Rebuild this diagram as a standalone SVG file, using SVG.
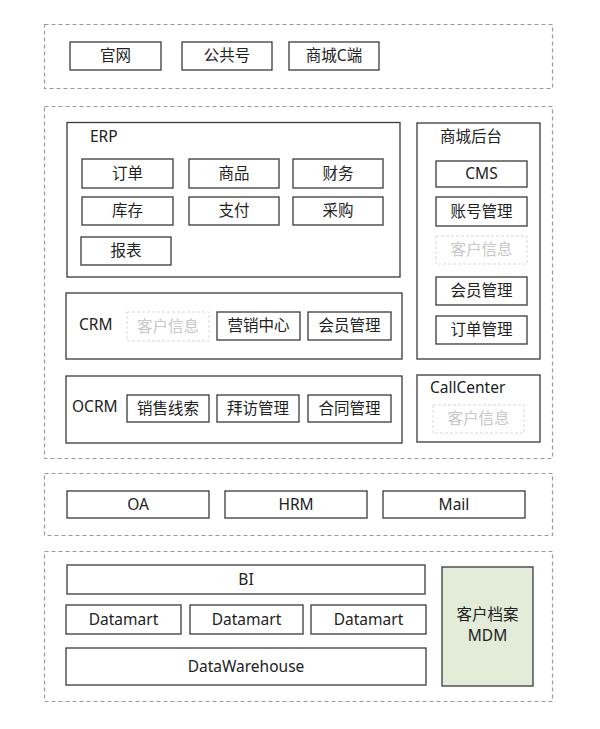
<svg xmlns="http://www.w3.org/2000/svg" width="600" height="729" viewBox="0 0 600 729">
<style>
.zone{fill:none;stroke:#9a9a9a;stroke-width:1.2;stroke-dasharray:4 3}
.box{fill:#fff;stroke:#3a3a3a;stroke-width:1.3}
.grp{fill:#fff;stroke:#3a3a3a;stroke-width:1.3}
.faint{fill:#fff;stroke:#d8d8d8;stroke-width:1;stroke-dasharray:3 2}
.mdm{fill:#e3ebd9;stroke:#3a3a3a;stroke-width:1.3}
text{font-family:"Noto Sans","Noto Sans CJK SC",sans-serif;font-size:15.5px;fill:#222;dominant-baseline:central}
.c{text-anchor:middle}
.ft{fill:#c8c8c8}
</style>
<rect width="600" height="729" fill="#fff"/>
<g id="zones">
<rect class="zone" x="44.5" y="24.5" width="508" height="64"/>
<rect class="zone" x="44.5" y="106.5" width="508" height="352"/>
<rect class="zone" x="44.5" y="473.5" width="508" height="62"/>
<rect class="zone" x="44.5" y="551.5" width="508" height="150"/>
</g>
<g id="n-guanwang"><rect class="box" x="70" y="42" width="91" height="28"/><text class="c" x="115.5" y="55">官网</text></g>
<g id="n-gongzhonghao"><rect class="box" x="182" y="42" width="90" height="28"/><text class="c" x="227" y="55">公共号</text></g>
<g id="n-shangcheng-c"><rect class="box" x="289" y="42" width="90" height="28"/><text class="c" x="334" y="55">商城C端</text></g>

<g id="g-erp"><rect class="grp" x="67" y="122.5" width="333" height="154.5"/><text x="90" y="136">ERP</text></g>
<g id="n-dingdan"><rect class="box" x="82" y="159" width="91" height="29"/><text class="c" x="127.5" y="172.5">订单</text></g>
<g id="n-shangpin"><rect class="box" x="189" y="159" width="90" height="29"/><text class="c" x="234" y="172.5">商品</text></g>
<g id="n-caiwu"><rect class="box" x="293" y="159" width="90" height="29"/><text class="c" x="338" y="172.5">财务</text></g>
<g id="n-kucun"><rect class="box" x="82" y="197" width="91" height="28"/><text class="c" x="127.5" y="210">库存</text></g>
<g id="n-zhifu"><rect class="box" x="189" y="197" width="90" height="28"/><text class="c" x="234" y="210">支付</text></g>
<g id="n-caigou"><rect class="box" x="293" y="197" width="90" height="28"/><text class="c" x="338" y="210">采购</text></g>
<g id="n-baobiao"><rect class="box" x="81" y="237" width="90" height="28"/><text class="c" x="126" y="250">报表</text></g>

<g id="g-houtai"><rect class="grp" x="417" y="123" width="123" height="236"/><text x="440" y="136">商城后台</text></g>
<g id="n-cms"><rect class="box" x="436" y="161" width="91" height="26"/><text class="c" x="481.5" y="173">CMS</text></g>
<g id="n-zhanghao"><rect class="box" x="436" y="197" width="91" height="29"/><text class="c" x="481.5" y="210.5">账号管理</text></g>
<g id="n-kehu1"><rect class="faint" x="436" y="236" width="91" height="28"/><text class="c ft" x="481.5" y="249">客户信息</text></g>
<g id="n-huiyuan1"><rect class="box" x="436" y="277" width="91" height="28"/><text class="c" x="481.5" y="290">会员管理</text></g>
<g id="n-dingdanguanli"><rect class="box" x="436" y="316" width="91" height="28"/><text class="c" x="481.5" y="329">订单管理</text></g>

<g id="g-crm"><rect class="grp" x="66" y="293" width="336" height="66"/><text x="79" y="324">CRM</text></g>
<g id="n-kehu2"><rect class="faint" x="127" y="312" width="82" height="29"/><text class="c ft" x="168" y="325.5">客户信息</text></g>
<g id="n-yingxiao"><rect class="box" x="217" y="312" width="83" height="28"/><text class="c" x="258.5" y="325">营销中心</text></g>
<g id="n-huiyuan2"><rect class="box" x="308" y="312" width="83" height="28"/><text class="c" x="349.5" y="325">会员管理</text></g>

<g id="g-ocrm"><rect class="grp" x="66" y="376" width="336" height="67"/><text x="72" y="406">OCRM</text></g>
<g id="n-xiansuo"><rect class="box" x="127" y="395" width="82" height="27"/><text class="c" x="168" y="407.5">销售线索</text></g>
<g id="n-baifang"><rect class="box" x="217" y="395" width="82" height="27"/><text class="c" x="258" y="407.5">拜访管理</text></g>
<g id="n-hetong"><rect class="box" x="308" y="395" width="83" height="27"/><text class="c" x="349.5" y="407.5">合同管理</text></g>

<g id="g-callcenter"><rect class="grp" x="417" y="375" width="123" height="67"/><text x="430" y="387">CallCenter</text></g>
<g id="n-kehu3"><rect class="faint" x="433" y="405" width="91" height="28"/><text class="c ft" x="478.5" y="418">客户信息</text></g>

<g id="n-oa"><rect class="box" x="67" y="491" width="142" height="27"/><text class="c" x="138" y="503.5">OA</text></g>
<g id="n-hrm"><rect class="box" x="225" y="491" width="142" height="27"/><text class="c" x="296" y="503.5">HRM</text></g>
<g id="n-mail"><rect class="box" x="383" y="491" width="142" height="27"/><text class="c" x="454" y="503.5">Mail</text></g>

<g id="n-bi"><rect class="box" x="67" y="565" width="358" height="29"/><text class="c" x="246" y="578.5">BI</text></g>
<g id="n-datamart1"><rect class="box" x="66" y="605" width="115" height="29"/><text class="c" x="123.5" y="618.5">Datamart</text></g>
<g id="n-datamart2"><rect class="box" x="190" y="605" width="113" height="29"/><text class="c" x="246.5" y="618.5">Datamart</text></g>
<g id="n-datamart3"><rect class="box" x="311" y="605" width="115" height="29"/><text class="c" x="368.5" y="618.5">Datamart</text></g>
<g id="n-dw"><rect class="box" x="66" y="648" width="360" height="37"/><text class="c" x="246" y="665.5">DataWarehouse</text></g>
<g id="n-mdm"><rect class="mdm" x="442" y="567" width="91" height="119"/><text class="c" x="487.5" y="614">客户档案</text><text class="c" x="487.5" y="635">MDM</text></g>
<g id="connectors"></g>
</svg>
